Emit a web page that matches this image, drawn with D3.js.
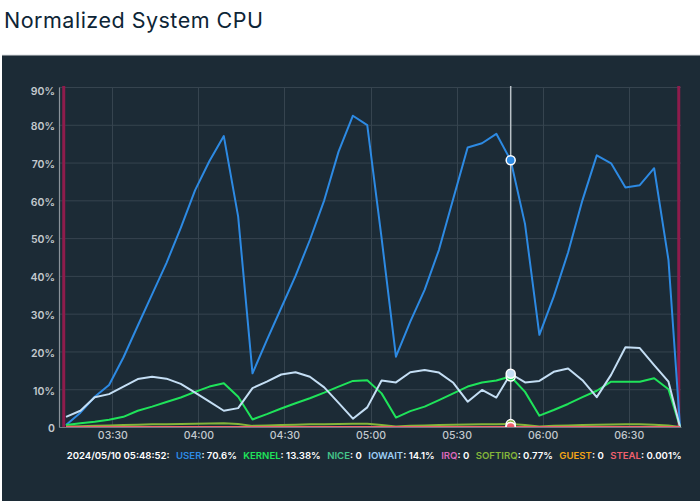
<!DOCTYPE html>
<html><head><meta charset="utf-8">
<script src="https://cdn.jsdelivr.net/npm/d3@7"></script>
<style>
html,body{margin:0;padding:0;background:#ffffff;}
svg{display:block;}
</style></head><body>
<svg id="c" width="700" height="501"></svg>
<script>
// ---------- data ----------
const times = ["03:13:52","03:18:52","03:23:52","03:28:52","03:33:52","03:38:52","03:43:52","03:48:52","03:53:52","03:58:52",
  "04:03:52","04:08:52","04:13:52","04:18:52","04:23:52","04:28:52","04:33:52","04:38:52","04:43:52","04:48:52",
  "04:53:52","04:58:52","05:03:52","05:08:52","05:13:52","05:18:52","05:23:52","05:28:52","05:33:52","05:38:52",
  "05:43:52","05:48:52","05:53:52","05:58:52","06:03:52","06:08:52","06:13:52","06:18:52","06:23:52","06:28:52",
  "06:33:52","06:38:52","06:43:52","06:47:54"];
const userVals = [0.5,3.8,8.0,11.1,18.4,26.8,35.1,43.4,52.7,62.7,70.4,77.0,55.7,14.2,23.0,31.5,40.0,49.5,60.0,72.9,
  82.4,79.9,50.0,18.6,27.9,36.3,46.9,60.5,74.0,75.1,77.6,70.6,53.7,24.4,34.5,46.2,60.0,71.9,69.8,63.4,64.0,68.5,44.2,0];
const kernelVals = [0.5,1.0,1.4,1.9,2.7,4.3,5.4,6.6,7.8,9.3,10.7,11.6,8.0,2.0,3.4,4.9,6.3,7.6,9.1,10.7,
  12.2,12.4,8.9,2.5,4.2,5.4,7.1,8.9,10.7,11.8,12.3,13.38,9.3,3.0,4.5,6.1,7.9,9.6,12.0,12.0,12.0,12.9,10.0,0];
const niceVals = [0,0,0,0,0,0,0,0,0,0,0,0,0,0,0,0,0,0,0,0,0,0,0,0,0,0,0,0,0,0,0,0,0,0,0,0,0,0,0,0,0,0,0,0];
const iowaitVals = [2.7,4.3,7.9,8.7,10.7,12.7,13.3,12.8,11.4,9.1,6.7,4.3,5.0,10.3,12.0,13.9,14.5,13.3,10.5,6.4,
  2.2,5.2,12.3,11.8,14.5,15.1,14.4,11.7,6.7,9.8,7.8,14.1,11.8,12.2,14.6,15.5,12.4,7.9,13.8,21.1,20.9,16.4,12.0,0];
const irqVals = [0,0,0,0,0,0,0,0,0,0,0,0,0,0,0,0,0,0,0,0,0,0,0,0,0,0,0,0,0,0,0,0,0,0,0,0,0,0,0,0,0,0,0,0];
const softirqVals = [0.1,0.2,0.3,0.4,0.5,0.6,0.7,0.75,0.8,0.85,0.9,1.0,0.8,0.3,0.4,0.5,0.6,0.7,0.75,0.8,
  0.85,0.85,0.5,0.15,0.3,0.4,0.5,0.6,0.65,0.7,0.75,0.77,0.5,0.15,0.3,0.4,0.5,0.6,0.65,0.7,0.7,0.6,0.4,0];
const guestVals = [0,0,0,0,0,0,0,0,0,0,0,0,0,0,0,0,0,0,0,0,0,0,0,0,0,0,0,0,0,0,0,0,0,0,0,0,0,0,0,0,0,0,0,0];
const stealVals = [0.001,0.001,0.001,0.001,0.001,0.001,0.001,0.001,0.001,0.001,0.001,0.001,0.001,0.001,0.001,0.001,0.001,0.001,0.001,0.001,
  0.001,0.001,0.001,0.001,0.001,0.001,0.001,0.001,0.001,0.001,0.001,0.001,0.001,0.001,0.001,0.001,0.001,0.001,0.001,0.001,0.001,0.001,0.001,0];

const seriesNames = ["USER","KERNEL","NICE","IOWAIT","IRQ","SOFTIRQ","GUEST","STEAL"];
const legendValues = ["70.6%","13.38%","0","14.1%","0","0.77%","0","0.001%"];
const hoverStamp = "2024/05/10 05:48:52:";
const hoverTime = "05:48:52";
const yTickVals = [0,10,20,30,40,50,60,70,80,90];
const yTickLabels = ["0","10%","20%","30%","40%","50%","60%","70%","80%","90%"];
const xTickLabels = ["03:30","04:00","04:30","05:00","05:30","06:00","06:30"];
const markerTimes = ["03:13:04","06:47:27"];
const titleText = "Normalized System CPU";

// ---------- styles ----------
const colors = {USER:"#2d8ae3",KERNEL:"#1fe35a",NICE:"#45c48a",IOWAIT:"#c4def4",IRQ:"#db68bb",SOFTIRQ:"#84b53a",GUEST:"#f2a516",STEAL:"#f0606e"};
const legendColors = {USER:"#2d8ae3",KERNEL:"#1fe35a",NICE:"#45c48a",IOWAIT:"#9fcff6",IRQ:"#db68bb",SOFTIRQ:"#84b53a",GUEST:"#f2a516",STEAL:"#f0606e"};
const FONT = "Inter, 'DejaVu Sans', sans-serif";

const parse = d3.timeParse("%H:%M:%S");
const seriesVals = {USER:userVals,KERNEL:kernelVals,NICE:niceVals,IOWAIT:iowaitVals,IRQ:irqVals,SOFTIRQ:softirqVals,GUEST:guestVals,STEAL:stealVals};
const tDates = times.map(parse);

const svg = d3.select("#c");
const L = 59, R = 681, T = 87, B = 427;

// title
const title = svg.append("text").attr("x",4).attr("y",27.5)
  .attr("font-family",FONT).attr("font-weight",400).attr("font-size",21.5)
  .attr("fill","#0d2536").text(titleText);
{
  const w = title.node().getBBox().width;
  const target = 259;
  title.attr("letter-spacing", ((target - w)/(titleText.length-1)).toFixed(2));
}

// panel
svg.append("rect").attr("x",2).attr("y",55).attr("width",698).attr("height",446).attr("fill","#1c2b36");
svg.append("line").attr("x1",2).attr("x2",700).attr("y1",55).attr("y2",55).attr("stroke","#d9dde0").attr("stroke-width",1);

const x = d3.scaleTime().domain([parse("03:11:25"), parse("06:48:14")]).range([L, R]);
const y = d3.scaleLinear().domain([0,90]).range([B, T]);

// grid
const grid = svg.append("g");
grid.selectAll("line.h").data(yTickVals.slice(1)).join("line")
  .attr("x1",L).attr("x2",R).attr("y1",d=>y(d)+0.5).attr("y2",d=>y(d)+0.5)
  .attr("stroke","#36444f").attr("stroke-width",1);
grid.selectAll("line.v").data(xTickLabels).join("line")
  .attr("x1",d=>Math.round(x(parse(d+":00")))+0.5).attr("x2",d=>Math.round(x(parse(d+":00")))+0.5)
  .attr("y1",T).attr("y2",B)
  .attr("stroke","#36444f").attr("stroke-width",1);

// x axis
const xAxis = d3.axisBottom(x).tickValues(xTickLabels.map(s=>parse(s+":00"))).tickSize(0).tickPadding(0)
  .tickFormat((d,i)=>xTickLabels[i]);
const gx = svg.append("g").attr("transform",`translate(0,${B})`).call(xAxis);
gx.select(".domain").attr("stroke","#6f7980");
gx.selectAll("text").attr("font-family",FONT).attr("font-size",10.5).attr("font-weight",500)
  .attr("fill","#c3c9ce").attr("dy",null).attr("y",9.5).attr("dominant-baseline","middle");

// y axis
const yAxis = d3.axisLeft(y).tickValues(yTickVals).tickSize(0).tickPadding(0)
  .tickFormat((d,i)=>yTickLabels[i]);
const gy = svg.append("g").attr("transform",`translate(${L},0)`).call(yAxis);
gy.select(".domain").attr("stroke","#8a939a").attr("stroke-width",1.2);
gy.selectAll("text").attr("font-family",FONT).attr("font-size",10.5).attr("font-weight",600)
  .attr("fill","#c3c9ce").attr("x",-4).attr("dy",null)
  .attr("y",d=> d===90 ? 5 : 2).attr("dominant-baseline","middle");

// clip
svg.append("clipPath").attr("id","clip").append("rect").attr("x",L).attr("y",T-10).attr("width",R-L+6).attr("height",B-T+10);

// markers
svg.append("g").selectAll("line").data(markerTimes).join("line")
  .attr("x1",d=>x(parse(d))).attr("x2",d=>x(parse(d))).attr("y1",T-1).attr("y2",B)
  .attr("stroke","#8e1c4c").attr("stroke-width",3);

// lines
const line = d3.line().x((d,i)=>x(tDates[i])).y(d=>y(d));
const gl = svg.append("g").attr("clip-path","url(#clip)");
seriesNames.forEach(n=>{
  gl.append("path").attr("d",line(seriesVals[n])).attr("fill","none")
    .attr("stroke",colors[n]).attr("stroke-width",2).attr("stroke-linejoin","round");
});

// hover
const hi = times.indexOf(hoverTime);
const hx = x(tDates[hi]);
svg.append("line").attr("x1",hx).attr("x2",hx).attr("y1",T-1).attr("y2",B)
  .attr("stroke","#b9c1c7").attr("stroke-width",1.5);
const gc = svg.append("g").attr("clip-path","url(#clip)");
seriesNames.forEach(n=>{
  gc.append("circle").attr("cx",hx).attr("cy",y(seriesVals[n][hi])).attr("r",4.5)
    .attr("fill",colors[n]).attr("stroke","#ffffff").attr("stroke-width",1.5);
});

// legend: lay out pieces one by one, then fit to the reference span 66.7 .. 682
const GAP = 6.5;
function buildLegend(fs){
  svg.select("#legend").remove();
  const g = svg.append("g").attr("id","legend");
  let cx = 66.7;
  const put = (txt, col) => {
    const t = g.append("text").attr("x",cx).attr("y",456).attr("dominant-baseline","middle")
      .attr("font-family",FONT).attr("font-size",fs).attr("font-weight",600).attr("fill",col).text(txt);
    cx += t.node().getComputedTextLength();
  };
  put(hoverStamp, "#ffffff");
  seriesNames.forEach((n,i)=>{
    cx += GAP;
    put(n, legendColors[n]);
    put(": "+legendValues[i], "#ffffff");
  });
  return cx - 66.7;
}
const w0 = buildLegend(10.5);
const gaps = seriesNames.length*GAP;
buildLegend(10.5 * (615 - gaps) / (w0 - gaps));
</script></body></html>
